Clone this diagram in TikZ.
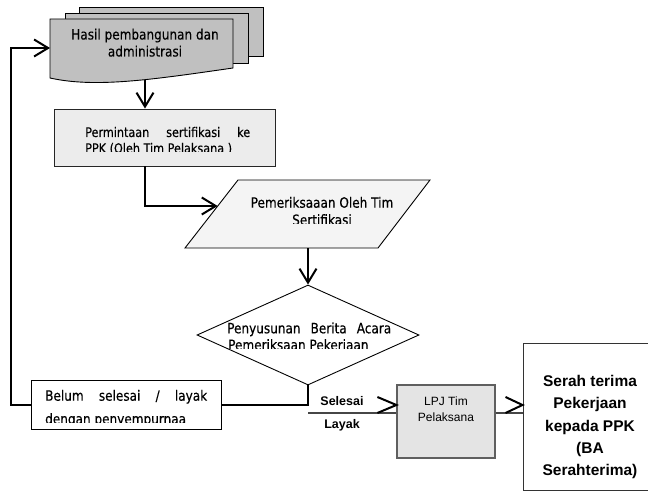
\documentclass[tikz,border=0pt]{standalone}
\usepackage{fontspec}
\setmainfont{DejaVu Sans}[FakeStretch=0.85,FakeBold=0.35]
\newfontfamily\arialf{Liberation Sans}
\usetikzlibrary{arrows.meta,shapes.geometric,calc}
\definecolor{docgray}{RGB}{192,192,192}
\definecolor{permgray}{RGB}{236,236,236}
\definecolor{pargray}{RGB}{244,244,244}
\definecolor{lpjgray}{RGB}{228,228,228}
\definecolor{lpjborder}{RGB}{95,95,95}
\definecolor{linegray}{RGB}{70,70,70}
\tikzset{
  conn/.style={line width=2pt, -{Straight Barb[length=14pt,width=17pt,line width=2pt]}},
  grayconn/.style={line width=2.5pt, color=linegray},
  vmark/.style={line width=2pt, line join=miter},
  shapeline/.style={line width=0.9pt},
  hum/.style={inner sep=0pt, font=\fontsize{14.2}{17}\selectfont},
  humsmall/.style={inner sep=0pt, font=\fontsize{13.2}{16}\selectfont},
  lbl/.style={inner sep=0pt, font=\arialf\bfseries\fontsize{12.5}{15}\selectfont},
  lpjtext/.style={inner sep=0pt, font=\arialf\fontsize{12}{15}\selectfont},
  sertext/.style={inner sep=0pt, font=\arialf\bfseries\fontsize{15.5}{18}\selectfont}
}
\begin{document}
\begin{tikzpicture}[x=1pt,y=-1pt]
\useasboundingbox (0,0) rectangle (648,492);
\fill[white] (0,0) rectangle (648,492);

% --- multi-document
\draw[shapeline, fill=docgray] (79,7) rectangle (263,56);
\draw[shapeline, fill=docgray] (65,13) rectangle (248,63);
\draw[shapeline, fill=docgray] (50,19) -- (233,19) -- (233,68)
  .. controls (150,80) and (95,88) .. (50,78) -- cycle;
\coordinate (docW) at (50,48);
\coordinate (docB) at (145,80.5);
\node[hum, anchor=base] (docT1) at (145,39.5) {Hasil pembangunan dan};
\node[hum, anchor=base] (docT2) at (145,56.5) {administrasi};

% --- Permintaan box
\node[shapeline, draw=black!85, fill=permgray, minimum width=221pt, minimum height=57pt, inner sep=0pt] (perm) at (164.5,137.5) {};
\begin{scope}
\clip (54,109) rectangle (275,151.5);
\node[humsmall, anchor=base west] (permT1) at (85,137) {\makebox[165pt][s]{Permintaan sertifikasi ke}};
\node[humsmall, anchor=base west] (permT2) at (85,153) {PPK (Oleh Tim Pelaksana )};
\end{scope}

% --- parallelogram
\draw[shapeline, fill=pargray] (238,180) -- (430,180) -- (378,248) -- (185,248) -- cycle;
\coordinate (parL) at (217.7,206);
\coordinate (parB) at (308,248);
\begin{scope}
\clip (185,180) rectangle (430,223);
\node[hum, anchor=base] (parT1) at (322,207.7) {Pemeriksaaan Oleh Tim};
\node[hum, anchor=base] (parT2) at (322,225) {Sertifikasi};
\end{scope}

% --- diamond
\node[diamond, shapeline, draw, fill=white, minimum width=222pt, minimum height=100pt, inner sep=0pt] (dia) at (308,335) {};
\begin{scope}
\clip (197,285) rectangle (419,348);
\node[hum, anchor=base west] (diaT1) at (227,333.3) {\makebox[164pt][s]{Penyusunan Berita Acara}};
\node[hum, anchor=base west] (diaT2) at (228,350) {Pemeriksaan Pekerjaan};
\end{scope}

% --- connectors (black)
\coordinate (loopC) at (11,405);
\draw[conn] (docB) -- (perm.north -| docB);
\draw[conn] (perm.south -| docB) |- (parL);
\draw[conn] (parB) -- (dia.north);
\draw[conn] (dia.south) |- (loopC) |- (docW);

% --- Belum box
\node[shapeline, draw, fill=white, minimum width=190pt, minimum height=49pt, inner sep=0pt] (belum) at (126,404.5) {};
\begin{scope}
\clip (31,380) rectangle (221,422.7);
\node[hum, anchor=base west] (belT1) at (45,400.7) {\makebox[162pt][s]{Belum selesai / layak}};
\node[hum, anchor=base west] (belT2) at (45,424) {dengan penyempurnaa};
\end{scope}

% --- LPJ box
\node[line width=1.2pt, draw=lpjborder, fill=lpjgray, minimum width=98pt, minimum height=73pt, inner sep=0pt] (lpj) at (446,421.5) {};
\node[lpjtext, anchor=base] (lpjT1) at (446,405) {LPJ Tim};
\node[lpjtext, anchor=base] (lpjT2) at (446,421.7) {Pelaksana};

% --- Serah box
\begin{scope}
\clip (0,0) rectangle (648,492);
\node[line width=1pt, draw=black!80, fill=white, minimum width=140pt, minimum height=147pt, inner sep=0pt] (serah) at (593,416.5) {};
\end{scope}
\node[sertext, anchor=base] (serT1) at (590,386.7) {Serah terima};
\node[sertext, anchor=base] (serT2) at (590,408.8) {Pekerjaan};
\node[sertext, anchor=base] (serT3) at (590,431) {kepada PPK};
\node[sertext, anchor=base] (serT4) at (590,453.2) {(BA};
\node[sertext, anchor=base] (serT5) at (590,475.4) {Serahterima)};

% --- gray connectors with open marks
\coordinate (lpjIn) at ([yshift=8.5pt]lpj.west);
\coordinate (lpjOut) at ([yshift=8.5pt]lpj.east);
\coordinate (serIn) at (serah.west |- lpjOut);
\draw[grayconn] (dia.south |- lpjIn) -- (lpjIn);
\draw[grayconn] (lpjOut) -- (serIn);
\draw[vmark] ([shift={(-19pt,16pt)}]lpjIn) -- ([yshift=8pt]lpjIn) -- ([xshift=-19pt]lpjIn);
\draw[vmark] ([shift={(-17pt,16pt)}]serIn) -- ([yshift=8pt]serIn) -- ([xshift=-17pt]serIn);

% --- labels
\node[lbl, anchor=base] (lblS) at (342,405) {Selesai};
\node[lbl, anchor=base] (lblL) at (342,428) {Layak};
\end{tikzpicture}
\end{document}
